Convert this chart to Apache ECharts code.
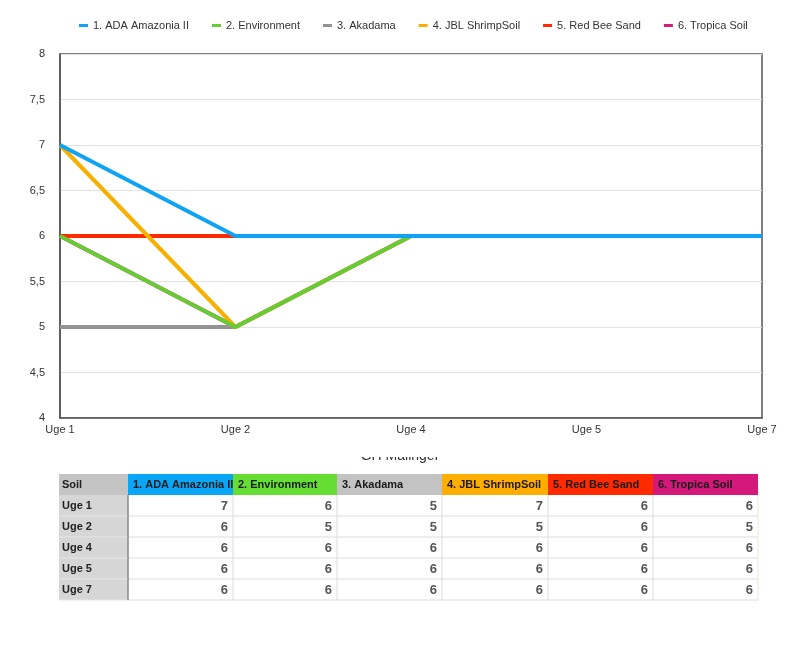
<!DOCTYPE html>
<html>
<head>
<meta charset="utf-8">
<script src="https://cdn.jsdelivr.net/npm/echarts@6/dist/echarts.min.js"></script>
<style>html,body{margin:0;padding:0;background:#fff}#c{width:800px;height:651px}</style>
</head>
<body>
<div id="c"></div>
<script>
const weeks = ['Uge 1', 'Uge 2', 'Uge 4', 'Uge 5', 'Uge 7'];
const soilNames = ['1. ADA Amazonia II', '2. Environment', '3. Akadama', '4. JBL ShrimpSoil', '5. Red Bee Sand', '6. Tropica Soil'];
const adaAmazonia = [7, 6, 6, 6, 6];
const environment = [6, 5, 6, 6, 6];
const akadama = [5, 5, 6, 6, 6];
const jblShrimpSoil = [7, 5, 6, 6, 6];
const redBeeSand = [6, 6, 6, 6, 6];
const tropicaSoil = [6, 5, 6, 6, 6];
const seriesValues = [adaAmazonia, environment, akadama, jblShrimpSoil, redBeeSand, tropicaSoil];
const lineColors = ['#0fa3f2', '#66cc33', '#939393', '#f7b000', '#ff2a00', '#d81b78'];
const headerColors = ['#0aa6f5', '#66dd33', '#c3c3c3', '#ffae00', '#ff2a00', '#d4197a'];
const drawOrder = [6, 5, 3, 4, 2, 1];
const titleText = 'GH Målinger';

const FONT = '"Liberation Sans", Arial, Helvetica, sans-serif';
const colX = [59, 128, 233, 337, 442, 548, 653, 758];
const rowY = [474, 495, 516, 537, 558, 579, 600];

const g = [];
g.push({type: 'text', z: 1, style: {text: titleText, x: 400, y: 463, fill: '#333', font: '14px ' + FONT, textAlign: 'center', align: 'center', textVerticalAlign: 'bottom', verticalAlign: 'bottom'}});
g.push({type: 'rect', z: 2, shape: {x: 300, y: 440, width: 200, height: 17}, style: {fill: '#fff'}});
g.push({type: 'rect', z: 3, shape: {x: colX[0], y: rowY[0], width: colX[1] - colX[0], height: rowY[1] - rowY[0]}, style: {fill: '#c4c4c4'}});
g.push({type: 'text', z: 5, style: {text: 'Soil', x: colX[0] + 3, y: (rowY[0] + rowY[1]) / 2, fill: '#222', font: 'bold 11px ' + FONT, textAlign: 'left', align: 'left', textVerticalAlign: 'middle', verticalAlign: 'middle'}});
soilNames.forEach((n, i) => {
  g.push({type: 'rect', z: 3, shape: {x: colX[i + 1], y: rowY[0], width: colX[i + 2] - colX[i + 1], height: rowY[1] - rowY[0]}, style: {fill: headerColors[i]}});
  g.push({type: 'text', z: 5, style: {text: n, x: colX[i + 1] + 5, y: (rowY[0] + rowY[1]) / 2, fill: '#1a1a1a', font: 'bold 11px ' + FONT, textAlign: 'left', align: 'left', textVerticalAlign: 'middle', verticalAlign: 'middle'}});
});
weeks.forEach((w, r) => {
  const y0 = rowY[r + 1], y1 = rowY[r + 2];
  g.push({type: 'rect', z: 3, shape: {x: colX[0], y: y0, width: colX[1] - colX[0], height: y1 - y0}, style: {fill: '#d6d6d6'}});
  g.push({type: 'text', z: 5, style: {text: w, x: colX[0] + 3, y: (y0 + y1) / 2, fill: '#222', font: 'bold 11px ' + FONT, textAlign: 'left', align: 'left', textVerticalAlign: 'middle', verticalAlign: 'middle'}});
  seriesValues.forEach((vals, i) => {
    g.push({type: 'text', z: 5, style: {text: String(vals[r]), x: colX[i + 2] - 5, y: (y0 + y1) / 2 + 1, fill: '#555', font: 'bold 13px ' + FONT, textAlign: 'right', align: 'right', textVerticalAlign: 'middle', verticalAlign: 'middle'}});
  });
  g.push({type: 'line', z: 4, shape: {x1: colX[1], y1: y1, x2: colX[7], y2: y1}, style: {stroke: '#dddddd', lineWidth: 1}});
  g.push({type: 'line', z: 4, shape: {x1: colX[0], y1: y1, x2: colX[1], y2: y1}, style: {stroke: '#e6e6e6', lineWidth: 1}});
});
for (let c = 2; c < colX.length; c++) {
  g.push({type: 'line', z: 4, shape: {x1: colX[c], y1: rowY[1], x2: colX[c], y2: rowY[6]}, style: {stroke: c === 7 ? '#dff0dc' : '#dddddd', lineWidth: 1}});
}
g.push({type: 'line', z: 4, shape: {x1: colX[1], y1: rowY[1], x2: colX[1], y2: rowY[6]}, style: {stroke: '#888', lineWidth: 1.5}});

const chart = echarts.init(document.getElementById('c'), null, {renderer: 'canvas'});
chart.setOption({
  animation: false,
  backgroundColor: '#fff',
  textStyle: {fontFamily: FONT},
  legend: {
    data: soilNames,
    top: 15,
    left: 74,
    icon: 'rect',
    itemWidth: 9,
    itemHeight: 3,
    itemGap: 23,
    textStyle: {fontSize: 11, color: '#333', fontFamily: FONT}
  },
  grid: {left: 60, right: 38, top: 54, bottom: 233, show: true, borderColor: '#555', borderWidth: 1.5, containLabel: false},
  xAxis: {
    type: 'category',
    data: weeks,
    boundaryGap: false,
    axisLine: {lineStyle: {color: '#555', width: 1.5}},
    axisTick: {show: false},
    splitLine: {show: false},
    axisLabel: {fontSize: 11, color: '#333', margin: 6, fontFamily: FONT}
  },
  yAxis: {
    type: 'value',
    min: 4,
    max: 8,
    interval: 0.5,
    axisLine: {show: true, lineStyle: {color: '#555', width: 1.5}},
    axisTick: {show: false},
    splitLine: {lineStyle: {color: '#e2e2e2', width: 1}},
    axisLabel: {fontSize: 11, color: '#333', margin: 15, fontFamily: FONT, formatter: v => String(v).replace('.', ',')}
  },
  series: soilNames.map((n, i) => ({
    name: n,
    type: 'line',
    data: seriesValues[i],
    z: 2 + drawOrder[i],
    color: lineColors[i],
    lineStyle: {width: 4, color: lineColors[i]},
    showSymbol: false,
    symbol: 'none'
  })),
  graphic: g
});
</script>
</body>
</html>
